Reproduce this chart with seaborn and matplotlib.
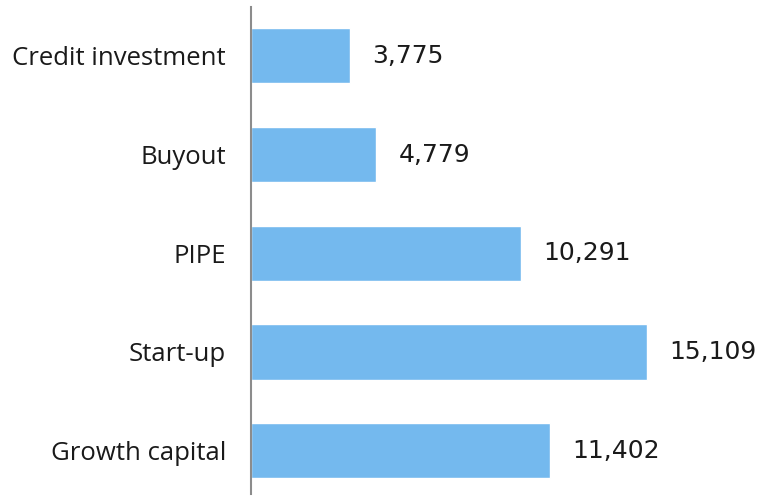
import matplotlib
matplotlib.use("Agg")
import matplotlib.pyplot as plt
import seaborn as sns
import pandas as pd

categories = ["Credit investment", "Buyout", "PIPE", "Start-up", "Growth capital"]
values = [3775, 4779, 10291, 15109, 11402]

df = pd.DataFrame({"category": categories, "value": values})

sns.set_theme(style="white")
plt.rcParams["font.family"] = ["Open Sans", "DejaVu Sans"]

fig = plt.figure(figsize=(7.64, 4.96), dpi=100)
ax = fig.add_axes([251 / 764, 2 / 496, 1 - 251 / 764, 487 / 496])

sns.barplot(data=df, y="category", x="value", orient="h", color="#74B9EE",
            saturation=1, width=0.56, ax=ax)

ax.set_xlim(0, 19560)
ax.set_ylim(4.44, -0.495)
for s in ["top", "right", "bottom"]:
    ax.spines[s].set_visible(False)
ax.spines["left"].set_color("#8c8c8c")
ax.spines["left"].set_linewidth(1.5)
ax.set_xticks([])
ax.set_xlabel("")
ax.set_ylabel("")
ax.tick_params(axis="y", length=0, pad=18, labelsize=18.5, labelcolor="#1a1a1a")

for i, v in enumerate(values):
    ax.annotate(f"{v:,}", xy=(v, i), xytext=(16, 0), textcoords="offset points",
                ha="left", va="center", fontsize=18, color="#1a1a1a",
                family="DejaVu Sans")

fig.savefig("out.png", dpi=100)
